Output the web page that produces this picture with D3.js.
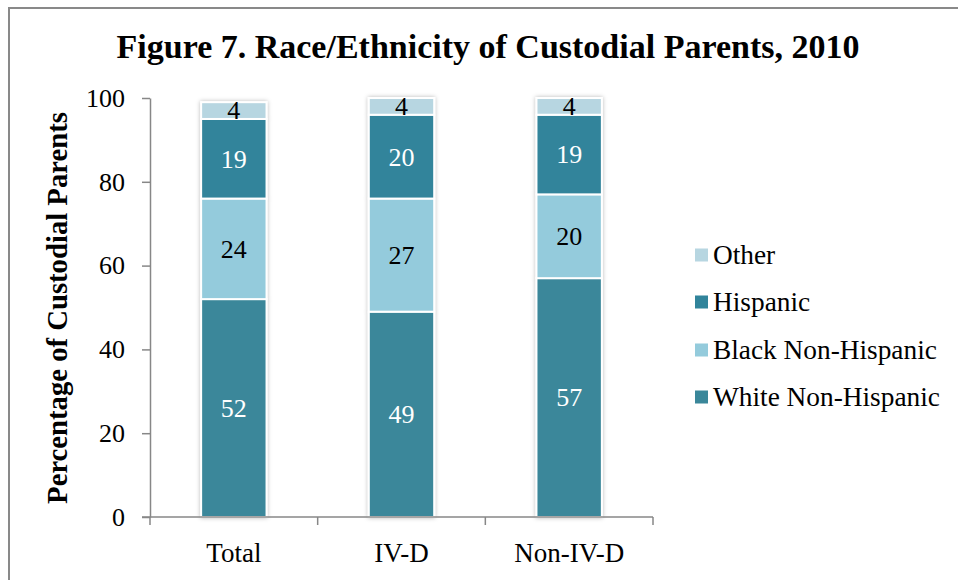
<!DOCTYPE html>
<html>
<head>
<meta charset="utf-8">
<script src="https://cdn.jsdelivr.net/npm/d3@7"></script>
<style>
  html, body { margin: 0; padding: 0; background: #fff; }
  svg { display: block; }
</style>
</head>
<body>
<svg id="chart" width="958" height="580"></svg>
<script>
// Custodial parents by race/ethnicity, 2010 (percent)
const categories = ["Total", "IV-D", "Non-IV-D"];
const seriesNames = ["White Non-Hispanic", "Black Non-Hispanic", "Hispanic", "Other"];
const whiteNonHispanic = [52, 49, 57];
const blackNonHispanic = [24, 27, 20];
const hispanic = [19, 20, 19];
const other = [4, 4, 4];
const yTicks = [0, 20, 40, 60, 80, 100];

const SERIF = "'Liberation Serif', 'DejaVu Serif', serif";

const colors = {
  "White Non-Hispanic": "#3a879a",
  "Black Non-Hispanic": "#94cbdc",
  "Hispanic": "#31849b",
  "Other": "#b7d6e1"
};
const labelColors = {
  "White Non-Hispanic": "#ffffff",
  "Black Non-Hispanic": "#000000",
  "Hispanic": "#ffffff",
  "Other": "#000000"
};

const rows = categories.map((c, i) => ({
  category: c,
  "White Non-Hispanic": whiteNonHispanic[i],
  "Black Non-Hispanic": blackNonHispanic[i],
  "Hispanic": hispanic[i],
  "Other": other[i]
}));

const svg = d3.select("#chart");

// outer frame
svg.append("path")
  .attr("d", "M9,580 V8 H958")
  .attr("fill", "none")
  .attr("stroke", "#898989")
  .attr("stroke-width", 2);

const plot = { left: 150, right: 653, top: 98, bottom: 517 };

const x = d3.scaleBand()
  .domain(categories)
  .range([plot.left, plot.right])
  .paddingInner(0.61)
  .paddingOuter(0.305);

const y = d3.scaleLinear()
  .domain([0, 100])
  .range([plot.bottom, plot.top]);

// soft shadow around the bars
const defs = svg.append("defs");
const f = defs.append("filter").attr("id", "barShadow")
  .attr("x", "-20%").attr("y", "-5%").attr("width", "140%").attr("height", "110%");
f.append("feDropShadow")
  .attr("dx", 0).attr("dy", 0)
  .attr("stdDeviation", 2.2)
  .attr("flood-color", "#000")
  .attr("flood-opacity", 0.28);

function fitWidth(sel, target, base) {
  const w = sel.node().getComputedTextLength();
  sel.style("font-size", (base * target / w) + "px");
}

// title
const title = svg.append("text")
  .attr("x", 488).attr("y", 58)
  .attr("text-anchor", "middle")
  .style("font-family", SERIF)
  .style("font-weight", "bold")
  .style("font-size", "28px")
  .attr("fill", "#000")
  .text("Figure 7. Race/Ethnicity of Custodial Parents, 2010");
fitWidth(title, 743, 28);

// y axis
const yAxis = d3.axisLeft(y)
  .tickValues(yTicks)
  .tickSize(8)
  .tickSizeOuter(0)
  .tickPadding(17);
const yg = svg.append("g")
  .attr("transform", `translate(${plot.left},0)`)
  .call(yAxis);
yg.select(".domain").attr("stroke", "#878787").attr("stroke-width", 1.5);
yg.selectAll(".tick line").attr("stroke", "#878787").attr("stroke-width", 1.5);
yg.selectAll(".tick text")
  .style("font-family", SERIF)
  .style("font-size", "26px")
  .attr("fill", "#000");

// y axis title
const yTitle = svg.append("text")
  .attr("transform", `translate(67,${(112 + 504) / 2}) rotate(-90)`)
  .attr("text-anchor", "middle")
  .style("font-family", SERIF)
  .style("font-weight", "bold")
  .style("font-size", "22px")
  .attr("fill", "#000")
  .text("Percentage of Custodial Parents");
fitWidth(yTitle, 392, 22);

// stacked bars
const stack = d3.stack().keys(seriesNames);
const layers = stack(rows);

const barGroups = svg.append("g").selectAll("g.bar")
  .data(categories)
  .join("g")
  .attr("class", "bar")
  .attr("filter", "url(#barShadow)");

barGroups.each(function (cat, i) {
  const g = d3.select(this);
  layers.forEach(layer => {
    const d = layer[i];
    g.append("rect")
      .attr("x", x(cat))
      .attr("width", x.bandwidth())
      .attr("y", y(d[1]))
      .attr("height", y(d[0]) - y(d[1]))
      .attr("fill", colors[layer.key])
      .attr("stroke", "#ffffff")
      .attr("stroke-width", 2);
  });
});

// value labels
const labels = svg.append("g");
layers.forEach(layer => {
  layer.forEach((d, i) => {
    labels.append("text")
      .attr("x", x(categories[i]) + x.bandwidth() / 2)
      .attr("y", y((d[0] + d[1]) / 2))
      .attr("dy", "0.34em")
      .attr("text-anchor", "middle")
      .style("font-family", SERIF)
      .style("font-size", "26px")
      .attr("fill", labelColors[layer.key])
      .text(d.data[layer.key]);
  });
});

// x axis: baseline, boundary ticks and category labels
const xg = svg.append("g");
xg.append("line")
  .attr("x1", plot.left - 8).attr("x2", plot.right)
  .attr("y1", plot.bottom).attr("y2", plot.bottom)
  .attr("stroke", "#878787").attr("stroke-width", 1.5);
const bounds = d3.range(categories.length + 1)
  .map(k => plot.left + k * (plot.right - plot.left) / categories.length);
xg.selectAll("line.bt")
  .data(bounds)
  .join("line")
  .attr("class", "bt")
  .attr("x1", d => d).attr("x2", d => d)
  .attr("y1", plot.bottom).attr("y2", plot.bottom + 8)
  .attr("stroke", "#878787").attr("stroke-width", 1.5);
const xAxis = d3.axisBottom(x).tickSize(0).tickPadding(0);
const xl = svg.append("g")
  .attr("transform", `translate(0,${plot.bottom})`)
  .call(xAxis);
xl.select(".domain").remove();
xl.selectAll(".tick text")
  .style("font-family", SERIF)
  .style("font-size", "27px")
  .attr("fill", "#000")
  .attr("y", 45)
  .attr("dy", 0);

// legend
const legendItems = ["Other", "Hispanic", "Black Non-Hispanic", "White Non-Hispanic"];
const legendY = [255, 302, 350, 397];
const lg = svg.append("g");
legendItems.forEach((name, k) => {
  lg.append("rect")
    .attr("x", 695).attr("y", legendY[k] - 6.5)
    .attr("width", 13).attr("height", 13)
    .attr("fill", colors[name]);
  lg.append("text")
    .attr("class", "legend-label")
    .attr("x", 713).attr("y", legendY[k])
    .attr("dy", "0.34em")
    .style("font-family", SERIF)
    .style("font-size", "24px")
    .attr("fill", "#000")
    .text(name);
});
const longest = lg.selectAll("text.legend-label").nodes()[3];
const scale = 227 / longest.getComputedTextLength();
lg.selectAll("text.legend-label").style("font-size", (24 * scale) + "px");
</script>
</body>
</html>
